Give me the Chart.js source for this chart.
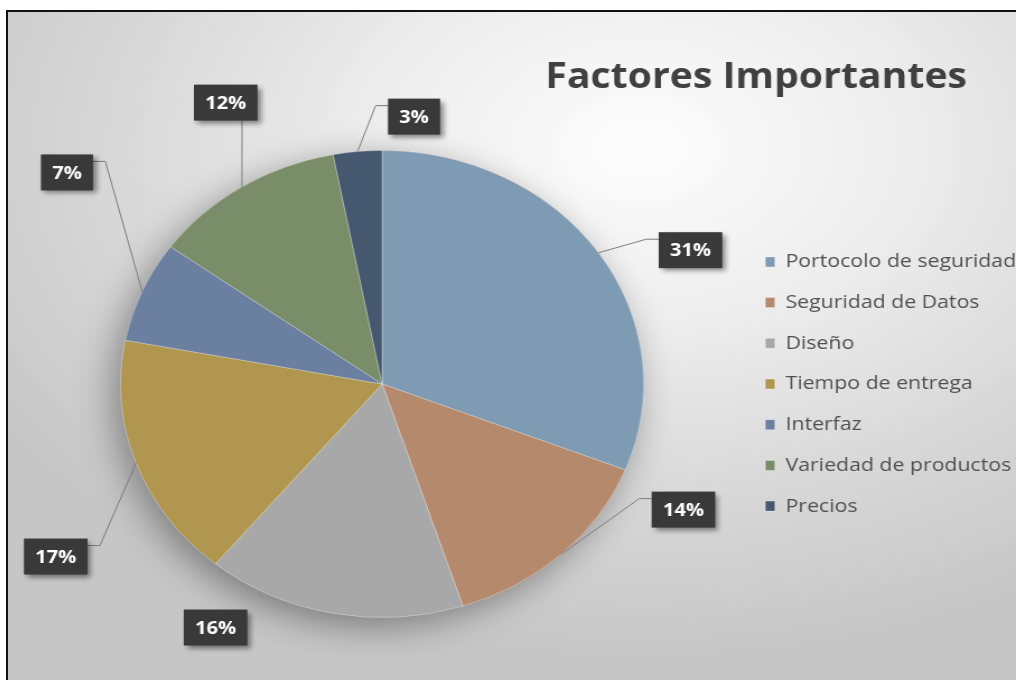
<!DOCTYPE html>
<html>
<head>
<meta charset="utf-8">
<title>Factores Importantes</title>
<script src="https://cdn.jsdelivr.net/npm/chart.js@4"></script>
<style>
  html, body { margin: 0; padding: 0; background: #fff; }
  #marco {
    position: absolute; left: 6px; top: 10px;
    width: 1020px; height: 680px;
    border-left: 2px solid #111; border-top: 2px solid #111;
    overflow: hidden;
    background: radial-gradient(ellipse 75% 75% at 62% 20%, #fdfdfd 0%, #ededed 35%, #d7d7d7 70%, #c6c6c6 100%);
  }
  /* el original está estirado en horizontal (el pastel es una elipse) */
  #grafico { position: absolute; left: 0; top: 0; transform: scaleX(1.12); transform-origin: 0 0; }
</style>
</head>
<body>
<div id="marco"><canvas id="grafico" width="900" height="668"></canvas></div>
<script>
// Datos del gráfico
const titulo = "Factores Importantes";
const categorias = [
  "Portocolo de seguridad",
  "Seguridad de Datos",
  "Diseño",
  "Tiempo de entrega",
  "Interfaz",
  "Variedad de productos",
  "Precios"
];
const porcentajes = [31, 14, 16, 17, 7, 12, 3];
const colores = ["#7f9bb4", "#b4896c", "#a8a8a8", "#b0964e", "#6b7fa0", "#798e68", "#465870"];

// Posición de cada etiqueta respecto al centro del pastel (en radios), como en Excel
const posEtiquetas = [
  [1.179, -0.573],
  [1.152, 0.538],
  [-0.637, 1.043],
  [-1.248, 0.739],
  [-1.205, -0.906],
  [-0.598, -1.205],
  [0.122, -1.145]
];
const conLinea = [true, true, false, true, true, true, true];

const fuente = '"Open Sans", sans-serif';
const tamLeyenda = 19;
const separacion = 21.7;
const anchoCuadro = 8.5;

// ancho del lienzo: la leyenda queda pegada al borde derecho
const lienzo = document.getElementById("grafico");
const medidor = document.createElement("canvas").getContext("2d");
medidor.font = `${tamLeyenda}px ${fuente}`;
const textoMax = Math.max(...categorias.map((c) => medidor.measureText(c).width));
lienzo.width = Math.ceil(654 + anchoCuadro + tamLeyenda / 2 + textoMax + separacion + 10);

// sombra suave detrás del pastel
const sombraPastel = {
  id: "sombraPastel",
  beforeDatasetsDraw(chart) {
    const arco = chart.getDatasetMeta(0).data[0];
    if (!arco) return;
    const ctx = chart.ctx;
    ctx.save();
    ctx.shadowColor = "rgba(0,0,0,0.38)";
    ctx.shadowBlur = 34;
    ctx.shadowOffsetX = -7;
    ctx.shadowOffsetY = 9;
    ctx.fillStyle = "#999";
    ctx.beginPath();
    ctx.arc(arco.x, arco.y, arco.outerRadius, 0, Math.PI * 2);
    ctx.fill();
    ctx.restore();
  }
};

// etiquetas de porcentaje con líneas guía
const etiquetasPastel = {
  id: "etiquetasPastel",
  afterDatasetsDraw(chart) {
    const ctx = chart.ctx;
    const arcos = chart.getDatasetMeta(0).data;
    ctx.save();
    ctx.font = `bold 18px ${fuente}`;
    arcos.forEach((arco, i) => {
      const { x, y, startAngle, endAngle, outerRadius } = arco;
      const medio = (startAngle + endAngle) / 2;
      const ax = x + Math.cos(medio) * outerRadius;
      const ay = y + Math.sin(medio) * outerRadius;
      const cx = x + posEtiquetas[i][0] * outerRadius;
      const cy = y + posEtiquetas[i][1] * outerRadius;
      const texto = porcentajes[i] + "%";
      const w = ctx.measureText(texto).width + 20;
      const h = 36;
      const izq = cx - w / 2;
      const arriba = cy - h / 2;

      if (conLinea[i]) {
        const ly = arriba + 7;
        ctx.strokeStyle = "#7c7c7c";
        ctx.lineWidth = 1;
        ctx.beginPath();
        ctx.moveTo(ax, ay);
        if (ax < izq) {
          ctx.lineTo(izq - 11, ly);
          ctx.lineTo(izq, ly);
        } else if (ax > izq + w) {
          ctx.lineTo(izq + w + 11, ly);
          ctx.lineTo(izq + w, ly);
        } else {
          ctx.lineTo(ax, arriba + h);
        }
        ctx.stroke();
      }

      ctx.save();
      ctx.shadowColor = "rgba(0,0,0,0.45)";
      ctx.shadowBlur = 5;
      ctx.shadowOffsetX = 3;
      ctx.shadowOffsetY = 3;
      ctx.fillStyle = "#393939";
      ctx.fillRect(izq, arriba, w, h);
      ctx.restore();

      ctx.fillStyle = "#ffffff";
      ctx.textAlign = "center";
      ctx.textBaseline = "middle";
      ctx.fillText(texto, cx, cy + 1);
    });
    ctx.restore();
  }
};

// título colocado arriba a la derecha
const tituloPlugin = {
  id: "tituloDerecha",
  afterDraw(chart) {
    const ctx = chart.ctx;
    ctx.save();
    ctx.font = `bold 35px ${fuente}`;
    ctx.fillStyle = "#404040";
    ctx.textAlign = "center";
    ctx.textBaseline = "alphabetic";
    ctx.fillText(titulo, 668, 76);
    ctx.restore();
  }
};

new Chart(lienzo, {
  type: "pie",
  data: {
    labels: categorias,
    datasets: [
      {
        data: porcentajes,
        backgroundColor: colores,
        borderColor: "rgba(255,255,255,0.3)",
        borderWidth: 1
      }
    ]
  },
  options: {
    responsive: false,
    animation: false,
    layout: { padding: { top: 138, bottom: 62, left: 13.6, right: 0 } },
    plugins: {
      legend: {
        position: "right",
        labels: {
          boxWidth: anchoCuadro,
          boxHeight: 10,
          padding: separacion,
          color: "#505050",
          font: { family: fuente, size: tamLeyenda }
        }
      },
      tooltip: { enabled: false }
    }
  },
  plugins: [sombraPastel, etiquetasPastel, tituloPlugin]
});
</script>
</body>
</html>
